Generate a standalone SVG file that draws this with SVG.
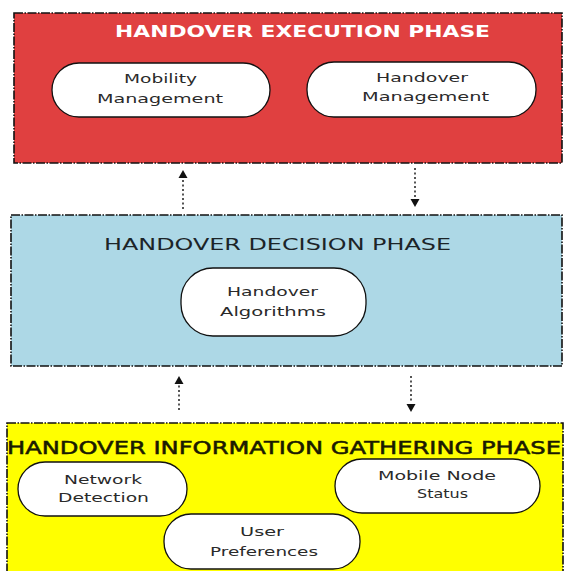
<svg xmlns="http://www.w3.org/2000/svg" width="564" height="571" viewBox="0 0 564 571">
<defs>
<style>
.phase{stroke:#111;stroke-width:1.6;stroke-dasharray:9,1.5,1.5,1.5}
.node rect{fill:#fff;stroke:#111;stroke-width:1.3}
.lbl{font-family:"DejaVu Sans",sans-serif;font-size:12.5px;fill:#2a2a2a}
.title{font-family:"DejaVu Sans",sans-serif}
.conn line{stroke:#555;stroke-width:2;stroke-dasharray:2,2.5}
.conn path{fill:#111}
</style>
</defs>
<rect width="564" height="571" fill="#fff"/>

<g id="execution-phase">
<rect class="phase" x="14" y="13" width="548" height="150" fill="#e04040"/>
<text class="title" x="115" y="37" textLength="375" lengthAdjust="spacingAndGlyphs" font-size="15" font-weight="bold" fill="#fff">HANDOVER EXECUTION PHASE</text>
</g>
<g id="mobility-management" class="node">
<rect x="52" y="63" width="218" height="54" rx="27"/>
<text class="lbl" x="124" y="83" textLength="73" lengthAdjust="spacingAndGlyphs">Mobility</text>
<text class="lbl" x="97" y="103" textLength="126" lengthAdjust="spacingAndGlyphs">Management</text>
</g>
<g id="handover-management" class="node">
<rect x="307" y="62" width="229" height="55" rx="27"/>
<text class="lbl" x="376" y="82" textLength="92" lengthAdjust="spacingAndGlyphs">Handover</text>
<text class="lbl" x="362" y="101" textLength="127" lengthAdjust="spacingAndGlyphs">Management</text>
</g>

<g id="decision-phase">
<rect class="phase" x="11" y="215" width="551" height="151" fill="#add8e6"/>
<text class="title" x="104" y="250" textLength="347" lengthAdjust="spacingAndGlyphs" font-size="16.5" fill="#1c2428">HANDOVER DECISION PHASE</text>
</g>
<g id="handover-algorithms" class="node">
<rect x="181" y="268" width="185" height="68" rx="32"/>
<text class="lbl" x="227" y="296" textLength="91" lengthAdjust="spacingAndGlyphs">Handover</text>
<text class="lbl" x="220" y="316" textLength="106" lengthAdjust="spacingAndGlyphs">Algorithms</text>
</g>

<g id="gathering-phase">
<rect class="phase" x="7" y="423" width="556" height="160" fill="#ffff00"/>
<text class="title" x="7" y="454" textLength="554" lengthAdjust="spacingAndGlyphs" font-size="17.5" fill="#1a1a00" stroke="#1a1a00" stroke-width="0.5">HANDOVER INFORMATION GATHERING PHASE</text>
</g>
<g id="network-detection" class="node">
<rect x="18" y="462" width="169" height="54" rx="27"/>
<text class="lbl" x="64" y="484" textLength="78" lengthAdjust="spacingAndGlyphs">Network</text>
<text class="lbl" x="58" y="502" textLength="91" lengthAdjust="spacingAndGlyphs">Detection</text>
</g>
<g id="mobile-node-status" class="node">
<rect x="335" y="459" width="205" height="54" rx="27"/>
<text class="lbl" x="378" y="480" textLength="118" lengthAdjust="spacingAndGlyphs">Mobile Node</text>
<text class="lbl" x="417" y="498" textLength="51" lengthAdjust="spacingAndGlyphs">Status</text>
</g>
<g id="user-preferences" class="node">
<rect x="164" y="514" width="196" height="55" rx="27"/>
<text class="lbl" x="240" y="536" textLength="44" lengthAdjust="spacingAndGlyphs">User</text>
<text class="lbl" x="210" y="556" textLength="108" lengthAdjust="spacingAndGlyphs">Preferences</text>
</g>

<g id="connectors" class="conn">
<line x1="183" y1="209" x2="183" y2="179"/>
<path d="M183,170 L187.5,178 L178.5,178 Z"/>
<line x1="415" y1="168" x2="415" y2="198"/>
<path d="M415,207 L410.5,199 L419.5,199 Z"/>
<line x1="179" y1="410" x2="179" y2="385"/>
<path d="M179,376 L183.5,384 L174.5,384 Z"/>
<line x1="411" y1="376" x2="411" y2="403"/>
<path d="M411,412 L406.5,404 L415.5,404 Z"/>
</g>
</svg>
